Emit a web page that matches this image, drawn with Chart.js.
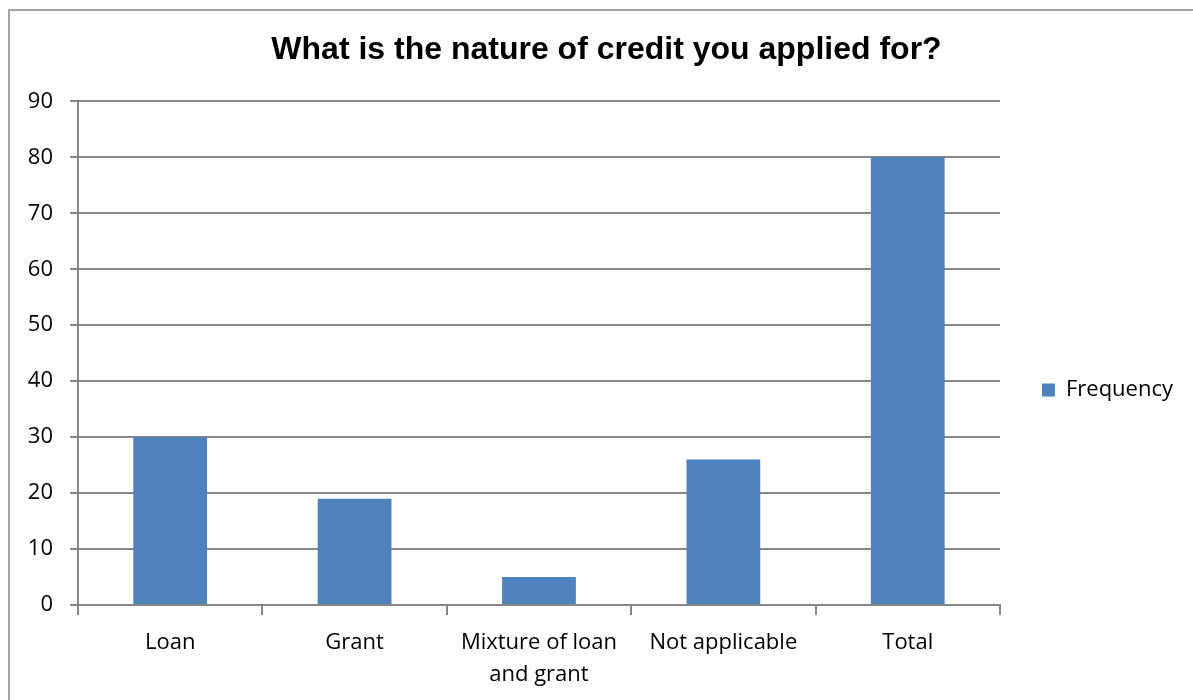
<!DOCTYPE html>
<html>
<head>
<meta charset="utf-8">
<script src="https://cdn.jsdelivr.net/npm/chart.js@4/dist/chart.umd.min.js"></script>
<style>
  html, body { margin: 0; padding: 0; background: #ffffff; }
  #wrap { width: 1193px; height: 700px; position: relative; }
</style>
</head>
<body>
<div id="wrap"><canvas id="c" width="1193" height="700"></canvas></div>
<script>
// Survey responses: nature of credit applied for
const categories = [['Loan'], ['Grant'], ['Mixture of loan', 'and grant'], ['Not applicable'], ['Total']];
const frequency = [30, 19, 5, 26, 80];
const seriesName = 'Frequency';
const yMin = 0;
const yMax = 90;
const yStep = 10;

const GRID = '#878787';
const BAR = '#4F81BD';
const LABEL_FONT = { family: 'Open Sans', size: 22 };

// Outer chart frame (left and top edges)
const framePlugin = {
  id: 'frame',
  beforeDraw(chart) {
    const ctx = chart.ctx;
    ctx.save();
    ctx.fillStyle = '#ffffff';
    ctx.fillRect(0, 0, chart.width, chart.height);
    ctx.strokeStyle = GRID;
    ctx.lineWidth = 1.5;
    ctx.beginPath();
    ctx.moveTo(9, chart.height);
    ctx.lineTo(9, 10);
    ctx.lineTo(chart.width, 10);
    ctx.stroke();
    ctx.restore();
  }
};

// Nudge the title and legend boxes after the layout pass
const placementPlugin = {
  id: 'placement',
  afterLayout(chart) {
    const lg = chart.legend;
    if (lg) {
      lg.left += 32; lg.right += 32;
      lg.top += 35; lg.bottom += 35;
    }
    const tb = chart.titleBlock;
    if (tb) { tb.left += 26; tb.right += 26; }
  }
};

new Chart(document.getElementById('c'), {
  type: 'bar',
  data: {
    labels: categories,
    datasets: [{
      label: seriesName,
      data: frequency,
      backgroundColor: BAR,
      borderWidth: 0,
      barPercentage: 0.4,
      categoryPercentage: 1.0
    }]
  },
  options: {
    responsive: false,
    animation: false,
    devicePixelRatio: 1,
    layout: { padding: { left: 10, right: 42, top: 10, bottom: 0 } },
    plugins: {
      title: {
        display: true,
        text: 'What is the nature of credit you applied for?',
        color: '#000000',
        font: { family: 'Liberation Sans', size: 32, weight: 'bold', lineHeight: 1.2 },
        padding: { top: 21, bottom: 32 }
      },
      legend: {
        display: true,
        position: 'right',
        labels: {
          color: '#000000',
          font: LABEL_FONT,
          boxWidth: 13,
          boxHeight: 13,
          padding: 10
        }
      },
      tooltip: { enabled: false }
    },
    scales: {
      x: {
        offset: true,
        grid: {
          offset: true,
          drawOnChartArea: false,
          drawTicks: true,
          tickLength: 10,
          color: GRID,
          lineWidth: 2
        },
        border: { display: true, color: GRID, width: 2 },
        ticks: {
          color: '#000000',
          font: { family: 'Open Sans', size: 22, lineHeight: 1.45 },
          padding: 12,
          maxRotation: 0,
          autoSkip: false
        },
        afterFit(scale) { scale.height = 95; }
      },
      y: {
        min: yMin,
        max: yMax,
        grid: {
          color: GRID,
          lineWidth: 2,
          drawTicks: true,
          tickLength: 8
        },
        border: { display: true, color: GRID, width: 2 },
        ticks: {
          stepSize: yStep,
          color: '#000000',
          font: LABEL_FONT,
          padding: 17
        },
        afterFit(scale) { scale.width = 68; }
      }
    }
  },
  plugins: [framePlugin, placementPlugin]
});
</script>
</body>
</html>
